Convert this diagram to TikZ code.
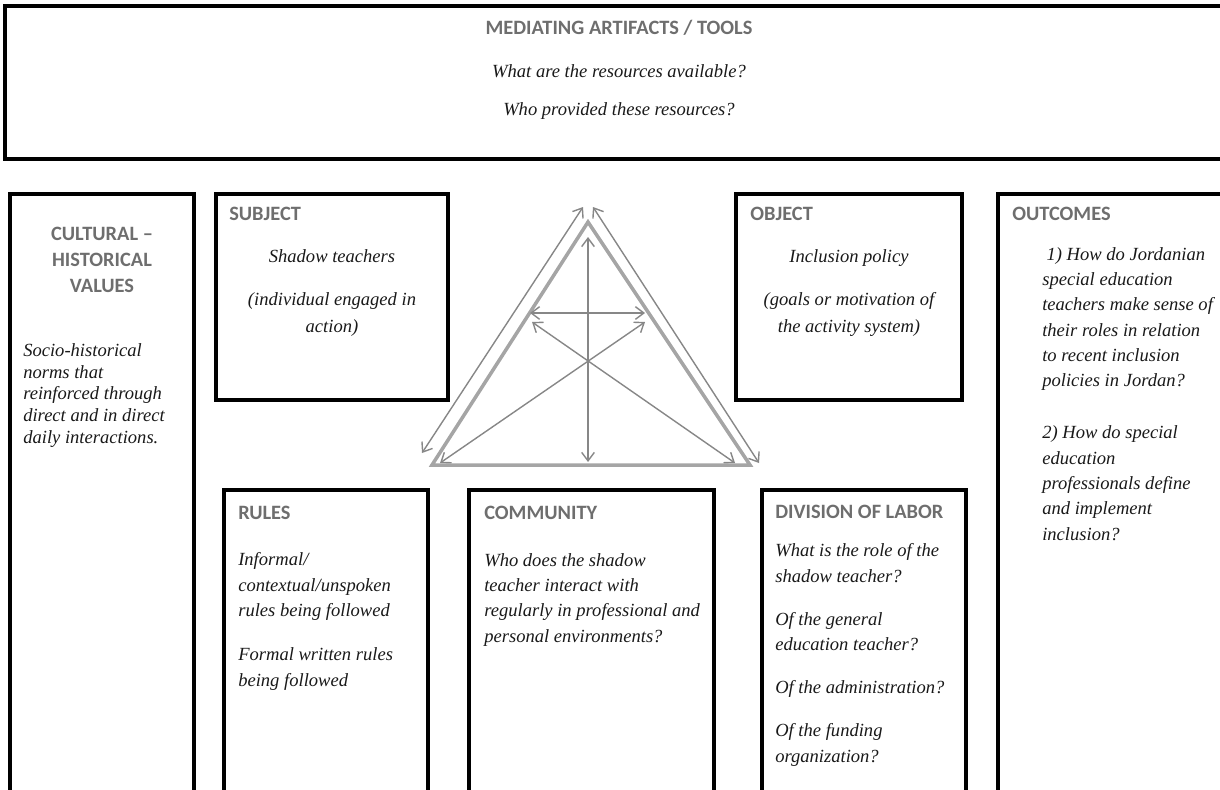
\documentclass[tikz,border=0pt]{standalone}
\usepackage{fontspec}
\setmainfont{Liberation Serif}
\newfontfamily\headfont{Carlito}
\usetikzlibrary{arrows.meta}
\usepackage{xcolor}
\definecolor{headgray}{RGB}{110,110,110}
\definecolor{bodyink}{RGB}{25,25,25}
\definecolor{trigray}{RGB}{165,165,165}
\definecolor{arrowgray}{RGB}{135,135,135}
\tikzset{
  box/.style={draw=black,line width=2.3pt},
  head/.style={font=\headfont\bfseries\fontsize{14.5}{18.2}\selectfont,text=headgray,inner sep=0pt,anchor=base west},
  body/.style={font=\itshape\fontsize{13.2}{18}\selectfont,text=bodyink,inner sep=0pt,anchor=base west,align=left},
  tight/.style={font=\itshape\fontsize{13.2}{15.3}\selectfont},
  loose/.style={font=\itshape\fontsize{13.2}{19.2}\selectfont},
}
\begin{document}
\begin{tikzpicture}[x=0.025cm,y=-0.025cm,>={Straight Barb[length=6pt,width=9pt]},line cap=round]
\useasboundingbox (0,0) rectangle (1220,789);
\begin{scope}
\clip (0,0) rectangle (1220,789);
\draw[box] (5,6) rectangle (1235,159);
\draw[box] (10,194) rectangle (194,800);
\draw[box] (216,194) rectangle (448,400);
\draw[box] (736,194) rectangle (962,400);
\draw[box] (998,194) rectangle (1235,800);
\draw[box] (224,490) rectangle (428,800);
\draw[box] (469,490) rectangle (714,800);
\draw[box] (762,490) rectangle (966,800);
\end{scope}
\node[head,anchor=base] (toolsHead) at (619,34) {MEDIATING ARTIFACTS / TOOLS};
\node[body,anchor=base,align=center] (toolsText) at (619,115) {What are the resources available?\\[9pt]Who provided these resources?};
\node[head,anchor=base,align=center] (cultHead) at (102,292) {CULTURAL \textendash\\HISTORICAL\\VALUES};
\node[body,tight] (cultText) at (23,443) {Socio-historical\\norms that\\reinforced through\\direct and in direct\\daily interactions.};
\node[head] (subjHead) at (229,220) {SUBJECT};
\node[body,loose,anchor=base,align=center] (subjText) at (332,332) {Shadow teachers\\[11pt](individual engaged in\\action)};
\node[head] (objHead) at (750,220) {OBJECT};
\node[body,loose,anchor=base,align=center] (objText) at (849,332) {Inclusion policy\\[11pt](goals or motivation of\\the activity system)};
\node[head] (outHead) at (1012,220) {OUTCOMES};
\node[body] (outText) at (1042,540) {\hspace{3pt}1) How do Jordanian\\special education\\teachers make sense of\\their roles in relation\\to recent inclusion\\policies in Jordan?\\[19pt]2) How do special\\education\\professionals define\\and implement\\inclusion?};
\node[head] (rulesHead) at (238,519) {RULES};
\node[body] (rulesText) at (238,686) {Informal/\\contextual/unspoken\\rules being followed\\[13.5pt]Formal written rules\\being followed};
\node[head] (commHead) at (484,519) {COMMUNITY};
\node[body] (commText) at (484,642) {Who does the shadow\\teacher interact with\\regularly in professional and\\personal environments?};
\node[head] (divHead) at (775,518) {DIVISION OF LABOR};
\node[body] (divText) at (775,762) {What is the role of the\\shadow teacher?\\[12.6pt]Of the general\\education teacher?\\[12.6pt]Of the administration?\\[12.6pt]Of the funding\\organization?};
\coordinate (apex) at (588,222);
\coordinate (cornerL) at (432,465);
\coordinate (cornerR) at (750,465);
\coordinate (leftLow) at (422,453);
\coordinate (leftTop) at (583,207);
\coordinate (rightTop) at (593,207);
\coordinate (rightLow) at (759,463);
\coordinate (vertTop) at (588,237);
\coordinate (vertLow) at (588,462);
\coordinate (horL) at (530,313);
\coordinate (horR) at (645,313);
\coordinate (diagTL) at (532,322);
\coordinate (diagBR) at (735,463);
\coordinate (diagTR) at (645,322);
\coordinate (diagBL) at (440,463);
\draw[trigray,line width=2.5pt,line join=miter] (apex) -- (cornerL) -- (cornerR) -- cycle;
\draw[arrowgray,line width=1pt,<->] (leftLow) -- (leftTop);
\draw[arrowgray,line width=1pt,<->] (rightTop) -- (rightLow);
\draw[arrowgray,line width=1pt,<->] (vertTop) -- (vertLow);
\draw[arrowgray,line width=1pt,<->] (horL) -- (horR);
\draw[arrowgray,line width=1pt,<->] (diagTL) -- (diagBR);
\draw[arrowgray,line width=1pt,<->] (diagTR) -- (diagBL);
\end{tikzpicture}
\end{document}
